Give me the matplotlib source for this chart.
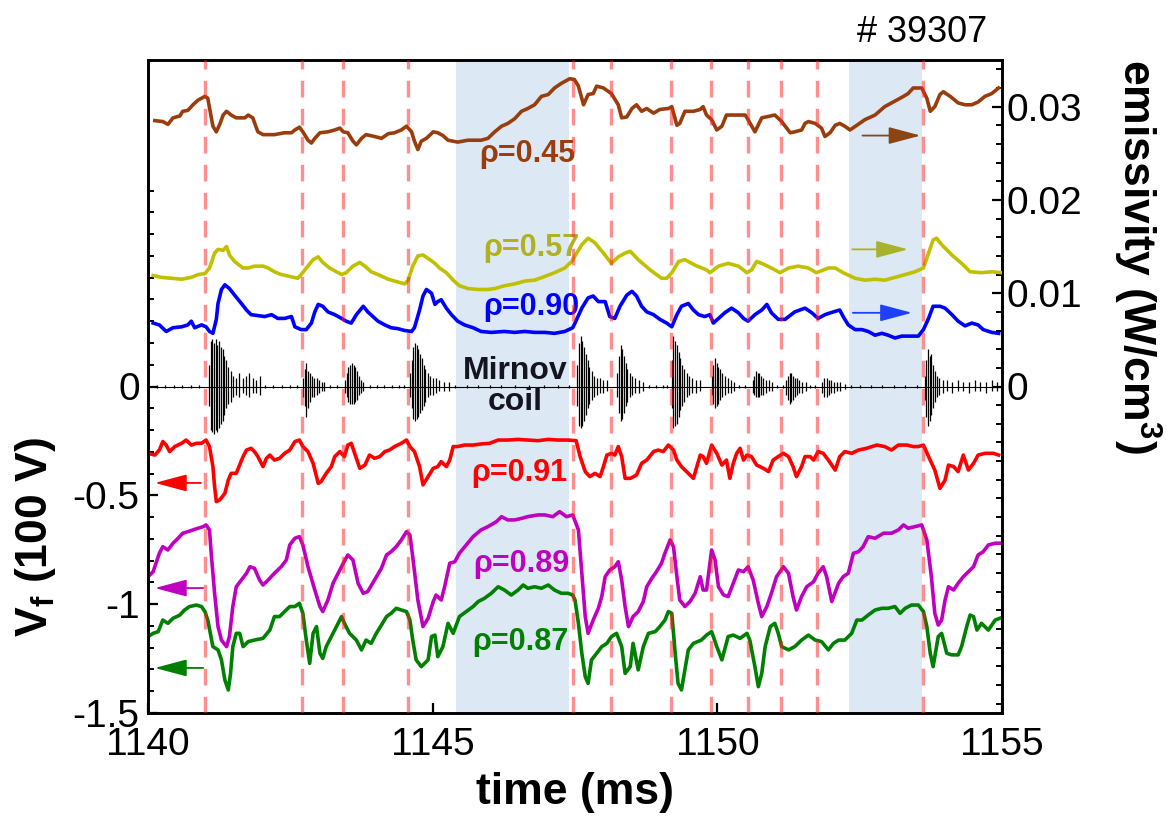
import matplotlib
matplotlib.use("Agg")
import matplotlib.pyplot as plt
from matplotlib.ticker import FixedLocator
import numpy as np

plt.rcParams['font.family'] = ['Liberation Sans', 'DejaVu Sans']
plt.rcParams['axes.unicode_minus'] = False
plt.rcParams['mathtext.fontset'] = 'custom'
plt.rcParams['mathtext.rm'] = 'Liberation Sans'
plt.rcParams['mathtext.bf'] = 'Liberation Sans:bold'

# ---------------- data ----------------
shot_label = "# 39307"
xlim = (1140, 1155)
x_ticks = [1140, 1145, 1150, 1155]
vf_ticks = [-1.5, -1, -0.5, 0]
vf_tick_labels = ["-1.5", "-1", "-0.5", "0"]
em_ticks = [0, 0.01, 0.02, 0.03]
em_tick_labels = ["0", "0.01", "0.02", "0.03"]

dashed_t = [1141.0, 1142.7, 1143.42, 1144.57, 1147.47, 1148.14, 1149.19,
            1149.89, 1150.54, 1151.12, 1151.75, 1153.62]
shade_start = [1145.41, 1152.31]
shade_end = [1147.40, 1153.59]

# emissivity traces (W/cm^3), right axis
brown_pts = [(1140.12,0.0285),(1140.26,0.0284),(1140.35,0.0281),(1140.44,0.0288),(1140.56,0.0290),(1140.61,0.0295),
    (1140.70,0.0296),(1140.79,0.0302),(1140.88,0.0307),(1141.00,0.0311),(1141.05,0.0309),(1141.14,0.0279),(1141.20,0.0273),
    (1141.26,0.0281),(1141.32,0.0291),(1141.38,0.0295),(1141.46,0.0291),(1141.55,0.0288),(1141.70,0.0288),(1141.76,0.0291),
    (1141.84,0.0288),(1141.93,0.0273),(1142.02,0.0270),(1142.22,0.0270),(1142.40,0.0272),(1142.52,0.0272),(1142.58,0.0275),
    (1142.66,0.0278),(1142.72,0.0273),(1142.81,0.0264),(1142.87,0.0261),(1142.93,0.0266),(1143.02,0.0272),(1143.16,0.0273),
    (1143.28,0.0275),(1143.37,0.0277),(1143.43,0.0273),(1143.51,0.0272),(1143.60,0.0263),(1143.66,0.0259),(1143.75,0.0266),
    (1143.83,0.0270),(1143.98,0.0268),(1144.10,0.0266),(1144.22,0.0271),(1144.33,0.0272),(1144.45,0.0275),(1144.54,0.0279),
    (1144.63,0.0273),(1144.68,0.0263),(1144.74,0.0254),(1144.80,0.0263),(1144.89,0.0266),(1145.01,0.0273),(1145.09,0.0272),
    (1145.18,0.0269),(1145.27,0.0264),(1145.36,0.0263),(1145.44,0.0262),(1145.62,0.0264),(1145.85,0.0264),(1145.97,0.0266),
    (1146.09,0.0273),(1146.21,0.0279),(1146.32,0.0282),(1146.44,0.0287),(1146.56,0.0295),(1146.67,0.0298),(1146.79,0.0302),
    (1146.91,0.0311),(1147.03,0.0313),(1147.14,0.0320),(1147.26,0.0325),(1147.41,0.0330),(1147.49,0.0329),(1147.56,0.0322),
    (1147.65,0.0302),(1147.73,0.0313),(1147.82,0.0314),(1147.88,0.0322),(1148.00,0.0320),(1148.14,0.0314),(1148.26,0.0302),
    (1148.32,0.0288),(1148.41,0.0289),(1148.50,0.0298),(1148.58,0.0302),(1148.67,0.0295),(1148.76,0.0298),(1148.88,0.0293),
    (1148.99,0.0297),(1149.14,0.0298),(1149.20,0.0300),(1149.29,0.0280),(1149.34,0.0282),(1149.43,0.0295),(1149.58,0.0295),
    (1149.70,0.0297),(1149.75,0.0300),(1149.81,0.0291),(1149.90,0.0286),(1149.99,0.0275),(1150.08,0.0279),(1150.16,0.0291),
    (1150.31,0.0291),(1150.49,0.0291),(1150.54,0.0286),(1150.66,0.0273),(1150.78,0.0288),(1151.01,0.0291),(1151.13,0.0284),
    (1151.28,0.0272),(1151.36,0.0273),(1151.48,0.0275),(1151.54,0.0282),(1151.60,0.0284),(1151.72,0.0282),(1151.83,0.0277),
    (1151.89,0.0268),(1151.98,0.0272),(1152.07,0.0280),(1152.15,0.0282),(1152.24,0.0279),(1152.33,0.0275),(1152.45,0.0280),
    (1152.59,0.0286),(1152.77,0.0291),(1152.94,0.0300),(1153.12,0.0306),(1153.27,0.0311),(1153.35,0.0314),(1153.44,0.0320),
    (1153.59,0.0320),(1153.68,0.0309),(1153.74,0.0295),(1153.82,0.0300),(1153.91,0.0313),(1153.97,0.0316),(1154.09,0.0311),
    (1154.17,0.0307),(1154.23,0.0304),(1154.35,0.0302),(1154.47,0.0302),(1154.58,0.0305),(1154.70,0.0311),(1154.82,0.0314),
    (1154.94,0.0320)]

yellow_pts = [(1140.09,0.0119),(1140.23,0.0117),(1140.41,0.0116),(1140.59,0.0115),(1140.76,0.0117),(1140.88,0.0120),
    (1141.00,0.0121),(1141.08,0.0127),(1141.17,0.0143),(1141.23,0.0147),(1141.32,0.0146),(1141.38,0.0150),(1141.43,0.0141),
    (1141.52,0.0134),(1141.67,0.0127),(1141.76,0.0127),(1141.87,0.0129),(1142.02,0.0129),(1142.11,0.0127),(1142.22,0.0123),
    (1142.34,0.0120),(1142.49,0.0118),(1142.63,0.0116),(1142.69,0.0120),(1142.78,0.0127),(1142.90,0.0136),(1142.99,0.0139),
    (1143.07,0.0133),(1143.19,0.0127),(1143.31,0.0123),(1143.40,0.0120),(1143.48,0.0122),(1143.60,0.0129),(1143.72,0.0133),
    (1143.81,0.0129),(1143.92,0.0123),(1144.04,0.0120),(1144.22,0.0115),(1144.39,0.0112),(1144.51,0.0110),(1144.57,0.0114),
    (1144.65,0.0129),(1144.74,0.0140),(1144.83,0.0141),(1144.95,0.0136),(1145.04,0.0132),(1145.12,0.0127),(1145.24,0.0122),
    (1145.36,0.0114),(1145.47,0.0108),(1145.62,0.0105),(1145.80,0.0104),(1145.97,0.0104),(1146.09,0.0105),(1146.26,0.0108),
    (1146.44,0.0110),(1146.62,0.0113),(1146.79,0.0114),(1146.97,0.0118),(1147.14,0.0122),(1147.32,0.0127),(1147.44,0.0134),
    (1147.50,0.0140),(1147.62,0.0152),(1147.73,0.0159),(1147.85,0.0154),(1148.00,0.0143),(1148.14,0.0132),(1148.26,0.0139),
    (1148.38,0.0143),(1148.47,0.0145),(1148.61,0.0136),(1148.82,0.0125),(1149.02,0.0116),(1149.11,0.0116),(1149.20,0.0122),
    (1149.32,0.0134),(1149.43,0.0136),(1149.61,0.0130),(1149.81,0.0125),(1149.87,0.0122),(1150.02,0.0129),(1150.19,0.0132),
    (1150.37,0.0129),(1150.52,0.0122),(1150.60,0.0125),(1150.69,0.0134),(1150.78,0.0132),(1150.95,0.0127),(1151.10,0.0122),
    (1151.25,0.0127),(1151.42,0.0129),(1151.60,0.0127),(1151.74,0.0122),(1151.95,0.0127),(1152.07,0.0127),(1152.21,0.0122),
    (1152.42,0.0116),(1152.59,0.0114),(1152.77,0.0115),(1152.94,0.0114),(1153.12,0.0117),(1153.30,0.0120),(1153.47,0.0123),
    (1153.62,0.0127),(1153.71,0.0143),(1153.79,0.0157),(1153.85,0.0159),(1153.94,0.0152),(1154.12,0.0141),(1154.29,0.0132),
    (1154.44,0.0123),(1154.64,0.0122),(1154.82,0.0123),(1154.99,0.0122)]

blue_pts = [(1140.09,0.0068),(1140.20,0.0066),(1140.32,0.0059),(1140.44,0.0063),(1140.59,0.0064),(1140.70,0.0066),
    (1140.76,0.0070),(1140.82,0.0063),(1140.94,0.0066),(1141.02,0.0064),(1141.08,0.0059),(1141.14,0.0057),(1141.20,0.0072),
    (1141.23,0.0089),(1141.29,0.0104),(1141.35,0.0109),(1141.43,0.0105),(1141.52,0.0098),(1141.64,0.0089),(1141.73,0.0082),
    (1141.81,0.0077),(1141.93,0.0076),(1142.05,0.0075),(1142.17,0.0077),(1142.28,0.0073),(1142.40,0.0073),(1142.52,0.0075),
    (1142.58,0.0064),(1142.69,0.0061),(1142.78,0.0061),(1142.87,0.0068),(1142.93,0.0080),(1142.99,0.0088),(1143.07,0.0086),
    (1143.16,0.0080),(1143.28,0.0077),(1143.40,0.0073),(1143.48,0.0070),(1143.57,0.0068),(1143.66,0.0077),(1143.78,0.0086),
    (1143.86,0.0080),(1143.95,0.0075),(1144.04,0.0070),(1144.16,0.0066),(1144.27,0.0063),(1144.39,0.0062),(1144.51,0.0060),
    (1144.63,0.0059),(1144.68,0.0063),(1144.77,0.0082),(1144.83,0.0097),(1144.89,0.0104),(1144.98,0.0100),(1145.04,0.0088),
    (1145.09,0.0091),(1145.15,0.0093),(1145.24,0.0084),(1145.33,0.0077),(1145.44,0.0070),(1145.56,0.0066),(1145.71,0.0063),
    (1145.85,0.0059),(1146.03,0.0058),(1146.26,0.0059),(1146.44,0.0058),(1146.62,0.0059),(1146.79,0.0058),(1146.97,0.0058),
    (1147.14,0.0057),(1147.32,0.0059),(1147.46,0.0063),(1147.50,0.0068),(1147.62,0.0084),(1147.73,0.0095),(1147.82,0.0097),
    (1147.91,0.0091),(1148.03,0.0091),(1148.11,0.0075),(1148.20,0.0073),(1148.29,0.0086),(1148.41,0.0098),(1148.50,0.0102),
    (1148.58,0.0097),(1148.67,0.0086),(1148.76,0.0080),(1148.88,0.0077),(1148.99,0.0072),(1149.11,0.0068),(1149.20,0.0064),
    (1149.29,0.0077),(1149.37,0.0086),(1149.49,0.0089),(1149.58,0.0082),(1149.67,0.0077),(1149.78,0.0075),(1149.87,0.0077),
    (1149.93,0.0068),(1150.02,0.0073),(1150.13,0.0079),(1150.25,0.0084),(1150.37,0.0079),(1150.46,0.0073),(1150.54,0.0070),
    (1150.66,0.0077),(1150.78,0.0082),(1150.87,0.0088),(1150.95,0.0079),(1151.07,0.0072),(1151.19,0.0072),(1151.36,0.0080),
    (1151.54,0.0084),(1151.66,0.0079),(1151.77,0.0073),(1151.89,0.0077),(1152.04,0.0080),(1152.15,0.0082),(1152.21,0.0075),
    (1152.30,0.0066),(1152.42,0.0061),(1152.54,0.0061),(1152.65,0.0059),(1152.77,0.0055),(1152.89,0.0057),(1153.00,0.0055),
    (1153.12,0.0052),(1153.24,0.0054),(1153.35,0.0054),(1153.53,0.0054),(1153.62,0.0061),(1153.71,0.0073),(1153.79,0.0086),
    (1153.91,0.0086),(1154.00,0.0084),(1154.12,0.0077),(1154.23,0.0070),(1154.35,0.0065),(1154.47,0.0068),(1154.58,0.0066),
    (1154.67,0.0061),(1154.82,0.0058),(1154.94,0.0057)]

# floating potential traces (100 V), left axis
red_pts = [(1140.00,-0.307),(1140.12,-0.315),(1140.20,-0.292),(1140.26,-0.253),(1140.32,-0.269),(1140.38,-0.299),
    (1140.47,-0.276),(1140.59,-0.261),(1140.67,-0.246),(1140.76,-0.269),(1140.85,-0.261),(1140.94,-0.261),(1141.02,-0.246),
    (1141.08,-0.276),(1141.14,-0.368),(1141.17,-0.460),(1141.20,-0.529),(1141.26,-0.521),(1141.35,-0.491),(1141.41,-0.430),
    (1141.46,-0.399),(1141.55,-0.399),(1141.61,-0.361),(1141.67,-0.322),(1141.73,-0.292),(1141.81,-0.284),(1141.87,-0.299),
    (1141.93,-0.322),(1142.02,-0.368),(1142.08,-0.330),(1142.14,-0.315),(1142.22,-0.338),(1142.31,-0.330),(1142.40,-0.307),
    (1142.49,-0.292),(1142.58,-0.253),(1142.66,-0.246),(1142.72,-0.276),(1142.81,-0.299),(1142.90,-0.353),(1142.99,-0.445),
    (1143.04,-0.437),(1143.13,-0.399),(1143.22,-0.368),(1143.28,-0.322),(1143.37,-0.299),(1143.45,-0.322),(1143.51,-0.269),
    (1143.57,-0.261),(1143.63,-0.307),(1143.72,-0.376),(1143.81,-0.361),(1143.89,-0.315),(1143.98,-0.330),(1144.07,-0.322),
    (1144.16,-0.299),(1144.24,-0.292),(1144.33,-0.276),(1144.45,-0.261),(1144.54,-0.246),(1144.60,-0.276),(1144.68,-0.299),
    (1144.77,-0.368),(1144.83,-0.452),(1144.92,-0.414),(1145.01,-0.376),(1145.09,-0.368),(1145.15,-0.345),(1145.24,-0.368),
    (1145.30,-0.338),(1145.36,-0.276),(1145.44,-0.276),(1145.56,-0.269),(1145.71,-0.269),(1145.85,-0.264),(1146.00,-0.261),
    (1146.15,-0.246),(1146.32,-0.246),(1146.50,-0.243),(1146.67,-0.246),(1146.85,-0.249),(1147.03,-0.243),(1147.20,-0.246),
    (1147.38,-0.246),(1147.52,-0.249),(1147.59,-0.322),(1147.68,-0.391),(1147.76,-0.414),(1147.85,-0.399),(1147.94,-0.414),
    (1148.00,-0.368),(1148.06,-0.315),(1148.14,-0.307),(1148.20,-0.315),(1148.26,-0.276),(1148.32,-0.322),(1148.38,-0.422),
    (1148.47,-0.422),(1148.58,-0.407),(1148.67,-0.353),(1148.76,-0.338),(1148.88,-0.299),(1148.96,-0.292),(1149.05,-0.299),
    (1149.14,-0.269),(1149.23,-0.292),(1149.29,-0.338),(1149.37,-0.368),(1149.52,-0.407),(1149.58,-0.422),(1149.64,-0.368),
    (1149.70,-0.315),(1149.75,-0.322),(1149.81,-0.353),(1149.90,-0.269),(1149.99,-0.307),(1150.08,-0.361),(1150.16,-0.338),
    (1150.22,-0.422),(1150.28,-0.353),(1150.34,-0.307),(1150.40,-0.284),(1150.46,-0.338),(1150.52,-0.315),(1150.60,-0.322),
    (1150.69,-0.361),(1150.81,-0.376),(1150.90,-0.391),(1150.98,-0.338),(1151.07,-0.322),(1151.16,-0.307),(1151.25,-0.322),
    (1151.33,-0.368),(1151.39,-0.414),(1151.48,-0.368),(1151.54,-0.322),(1151.63,-0.322),(1151.69,-0.338),(1151.77,-0.299),
    (1151.86,-0.307),(1151.95,-0.338),(1152.07,-0.384),(1152.15,-0.322),(1152.24,-0.299),(1152.36,-0.307),(1152.48,-0.292),
    (1152.62,-0.284),(1152.80,-0.269),(1152.94,-0.276),(1153.06,-0.292),(1153.18,-0.269),(1153.33,-0.269),(1153.44,-0.276),
    (1153.53,-0.276),(1153.62,-0.269),(1153.71,-0.322),(1153.82,-0.384),(1153.91,-0.468),(1154.00,-0.430),(1154.06,-0.361),
    (1154.15,-0.368),(1154.23,-0.391),(1154.32,-0.315),(1154.41,-0.384),(1154.50,-0.353),(1154.58,-0.315),(1154.70,-0.307),
    (1154.85,-0.307),(1154.94,-0.315)]

magenta_pts = [(1140.00,-0.874),(1140.09,-0.851),(1140.20,-0.766),(1140.26,-0.736),(1140.35,-0.751),(1140.44,-0.720),
    (1140.53,-0.697),(1140.61,-0.674),(1140.70,-0.667),(1140.79,-0.659),(1140.88,-0.651),(1140.97,-0.644),(1141.02,-0.636),
    (1141.08,-0.659),(1141.11,-0.766),(1141.17,-0.950),(1141.23,-1.103),(1141.29,-1.165),(1141.38,-1.195),(1141.43,-1.149),
    (1141.49,-1.011),(1141.55,-0.920),(1141.64,-0.889),(1141.73,-0.858),(1141.79,-0.828),(1141.87,-0.835),(1141.96,-0.889),
    (1142.02,-0.912),(1142.11,-0.889),(1142.22,-0.858),(1142.34,-0.828),(1142.43,-0.797),(1142.49,-0.728),(1142.58,-0.697),
    (1142.66,-0.690),(1142.72,-0.728),(1142.81,-0.828),(1142.93,-0.935),(1143.02,-1.011),(1143.07,-1.034),(1143.16,-0.981),
    (1143.25,-0.904),(1143.34,-0.858),(1143.43,-0.812),(1143.51,-0.774),(1143.60,-0.797),(1143.69,-0.904),(1143.78,-0.950),
    (1143.86,-0.942),(1143.98,-0.889),(1144.10,-0.835),(1144.19,-0.774),(1144.27,-0.759),(1144.36,-0.736),(1144.45,-0.705),
    (1144.54,-0.667),(1144.60,-0.682),(1144.65,-0.782),(1144.74,-0.981),(1144.83,-1.103),(1144.92,-1.065),(1145.01,-0.988),
    (1145.06,-0.958),(1145.15,-0.981),(1145.21,-0.920),(1145.30,-0.812),(1145.39,-0.805),(1145.47,-0.766),(1145.59,-0.728),
    (1145.71,-0.690),(1145.85,-0.659),(1145.97,-0.644),(1146.12,-0.621),(1146.21,-0.598),(1146.32,-0.613),(1146.44,-0.613),
    (1146.56,-0.606),(1146.67,-0.598),(1146.85,-0.590),(1146.97,-0.590),(1147.11,-0.598),(1147.23,-0.575),(1147.35,-0.598),
    (1147.46,-0.590),(1147.56,-0.659),(1147.62,-0.858),(1147.68,-1.057),(1147.73,-1.134),(1147.82,-1.073),(1147.91,-1.019),
    (1147.97,-0.965),(1148.03,-0.874),(1148.11,-0.843),(1148.20,-0.828),(1148.26,-0.805),(1148.32,-0.889),(1148.38,-1.011),
    (1148.44,-1.103),(1148.52,-1.057),(1148.61,-1.034),(1148.70,-0.988),(1148.76,-0.920),(1148.85,-0.881),(1148.93,-0.851),
    (1149.02,-0.812),(1149.08,-0.766),(1149.17,-0.705),(1149.23,-0.736),(1149.29,-0.874),(1149.34,-0.981),(1149.43,-1.011),
    (1149.52,-0.988),(1149.61,-0.950),(1149.70,-0.874),(1149.75,-0.935),(1149.81,-0.935),(1149.90,-0.751),(1149.96,-0.797),
    (1150.02,-0.920),(1150.11,-0.958),(1150.19,-0.965),(1150.28,-0.904),(1150.37,-0.843),(1150.46,-0.851),(1150.54,-0.828),
    (1150.63,-0.889),(1150.72,-0.996),(1150.78,-1.057),(1150.87,-1.011),(1150.95,-0.950),(1151.04,-0.874),(1151.16,-0.828),
    (1151.25,-0.858),(1151.33,-0.965),(1151.39,-1.027),(1151.48,-0.965),(1151.57,-0.920),(1151.69,-0.897),(1151.77,-0.858),
    (1151.86,-0.828),(1151.92,-0.874),(1152.01,-0.988),(1152.13,-0.904),(1152.21,-0.874),(1152.30,-0.858),(1152.39,-0.766),
    (1152.48,-0.759),(1152.56,-0.736),(1152.65,-0.690),(1152.77,-0.697),(1152.92,-0.674),(1153.06,-0.674),(1153.18,-0.659),
    (1153.27,-0.636),(1153.35,-0.651),(1153.47,-0.644),(1153.59,-0.636),(1153.68,-0.705),(1153.76,-0.874),(1153.82,-1.042),
    (1153.88,-1.096),(1153.94,-1.073),(1154.00,-0.981),(1154.06,-0.920),(1154.15,-0.935),(1154.23,-0.904),(1154.32,-0.874),
    (1154.41,-0.851),(1154.50,-0.828),(1154.58,-0.774),(1154.67,-0.759),(1154.76,-0.728),(1154.88,-0.720),(1154.96,-0.720)]

green_pts = [(1140.00,-1.149),(1140.09,-1.134),(1140.18,-1.126),(1140.26,-1.073),(1140.35,-1.088),(1140.44,-1.065),
    (1140.56,-1.050),(1140.64,-1.027),(1140.73,-1.011),(1140.85,-1.004),(1140.94,-1.011),(1141.00,-1.034),(1141.05,-1.073),
    (1141.14,-1.195),(1141.23,-1.210),(1141.29,-1.256),(1141.35,-1.348),(1141.41,-1.394),(1141.45,-1.318),(1141.49,-1.195),
    (1141.55,-1.134),(1141.61,-1.134),(1141.67,-1.195),(1141.76,-1.172),(1141.87,-1.165),(1142.02,-1.157),(1142.14,-1.119),
    (1142.22,-1.057),(1142.31,-1.057),(1142.40,-1.034),(1142.49,-1.011),(1142.58,-1.011),(1142.66,-0.996),(1142.72,-1.042),
    (1142.78,-1.165),(1142.84,-1.272),(1142.90,-1.134),(1142.96,-1.103),(1143.02,-1.226),(1143.07,-1.249),(1143.13,-1.195),
    (1143.22,-1.149),(1143.31,-1.103),(1143.40,-1.057),(1143.45,-1.088),(1143.54,-1.134),(1143.66,-1.165),(1143.75,-1.210),
    (1143.83,-1.165),(1143.92,-1.180),(1144.01,-1.134),(1144.10,-1.096),(1144.19,-1.057),(1144.27,-1.042),(1144.36,-1.019),
    (1144.45,-1.027),(1144.54,-1.034),(1144.60,-1.073),(1144.65,-1.165),(1144.71,-1.256),(1144.80,-1.287),(1144.92,-1.256),
    (1144.98,-1.149),(1145.04,-1.142),(1145.09,-1.241),(1145.18,-1.195),(1145.27,-1.088),(1145.36,-1.134),(1145.47,-1.057),
    (1145.59,-1.034),(1145.71,-1.011),(1145.80,-0.988),(1145.91,-0.973),(1146.03,-0.950),(1146.15,-0.920),(1146.26,-0.935),
    (1146.38,-0.958),(1146.50,-0.935),(1146.59,-0.912),(1146.67,-0.927),(1146.79,-0.920),(1146.91,-0.927),(1147.03,-0.912),
    (1147.14,-0.935),(1147.26,-0.950),(1147.38,-0.950),(1147.46,-0.958),(1147.50,-0.981),(1147.56,-1.088),(1147.62,-1.226),
    (1147.68,-1.333),(1147.73,-1.364),(1147.79,-1.256),(1147.88,-1.226),(1147.97,-1.195),(1148.06,-1.180),(1148.14,-1.149),
    (1148.23,-1.134),(1148.32,-1.195),(1148.38,-1.318),(1148.47,-1.287),(1148.52,-1.180),(1148.61,-1.302),(1148.70,-1.195),
    (1148.79,-1.134),(1148.91,-1.126),(1148.99,-1.103),(1149.08,-1.073),(1149.14,-1.034),(1149.20,-1.042),(1149.26,-1.226),
    (1149.31,-1.364),(1149.37,-1.394),(1149.43,-1.302),(1149.49,-1.210),(1149.58,-1.180),(1149.72,-1.165),(1149.81,-1.142),
    (1149.90,-1.126),(1149.99,-1.195),(1150.08,-1.256),(1150.19,-1.149),(1150.28,-1.142),(1150.40,-1.157),(1150.52,-1.134),
    (1150.57,-1.165),(1150.66,-1.287),(1150.72,-1.379),(1150.78,-1.318),(1150.84,-1.195),(1150.93,-1.103),(1151.01,-1.088),
    (1151.07,-1.134),(1151.13,-1.195),(1151.25,-1.210),(1151.36,-1.195),(1151.48,-1.165),(1151.60,-1.142),(1151.72,-1.165),
    (1151.83,-1.172),(1151.95,-1.210),(1152.04,-1.180),(1152.13,-1.165),(1152.24,-1.165),(1152.36,-1.134),(1152.45,-1.073),
    (1152.54,-1.073),(1152.65,-1.050),(1152.77,-1.027),(1152.89,-1.019),(1153.00,-1.019),(1153.12,-1.011),(1153.21,-1.042),
    (1153.30,-1.019),(1153.41,-1.004),(1153.53,-1.004),(1153.62,-1.034),(1153.68,-1.103),(1153.74,-1.226),(1153.79,-1.287),
    (1153.88,-1.149),(1153.94,-1.134),(1154.03,-1.226),(1154.12,-1.233),(1154.23,-1.233),(1154.29,-1.195),(1154.38,-1.103),
    (1154.44,-1.050),(1154.50,-1.057),(1154.56,-1.119),(1154.64,-1.088),(1154.76,-1.119),(1154.88,-1.073),(1154.96,-1.065)]

# Mirnov coil signal: oscillation extremes (upper, lower) at read times
mirnov_t = [1140.15,1140.30,1140.45,1140.60,1140.75,1140.90,
    1141.07,1141.10,1141.13,1141.16,1141.19,1141.22,1141.25,1141.28,1141.31,1141.34,1141.37,1141.41,1141.45,1141.50,1141.55,
    1141.60,1141.66,1141.72,1141.78,1141.84,1141.90,1141.96,
    1142.05,1142.20,1142.35,1142.50,1142.62,
    1142.72,1142.75,1142.78,1142.81,1142.84,1142.88,1142.92,1142.96,1143.00,1143.05,1143.10,
    1143.20,1143.32,
    1143.46,1143.49,1143.52,1143.55,1143.58,1143.61,1143.64,1143.67,1143.70,1143.74,1143.78,
    1143.90,1144.02,1144.15,1144.28,1144.40,1144.50,
    1144.60,1144.63,1144.66,1144.69,1144.72,1144.75,1144.78,1144.81,1144.84,1144.87,1144.91,1144.95,1145.00,1145.06,1145.12,
    1145.20,1145.28,
    1145.40,1145.60,1145.80,1146.00,1146.20,1146.45,1146.70,1146.95,1147.20,1147.40,
    1147.54,1147.57,1147.60,1147.63,1147.66,1147.69,1147.72,1147.75,1147.79,1147.83,1147.88,1147.94,1148.00,1148.06,
    1148.24,1148.27,1148.30,1148.33,1148.36,1148.39,1148.42,1148.46,1148.50,1148.55,1148.62,1148.70,
    1148.80,1148.92,1149.05,1149.12,
    1149.20,1149.23,1149.26,1149.29,1149.32,1149.35,1149.38,1149.42,1149.46,1149.50,1149.56,1149.62,1149.70,
    1149.90,1149.93,1149.96,1149.99,1150.02,1150.05,1150.09,1150.13,1150.18,1150.24,1150.30,
    1150.38,1150.48,
    1150.62,1150.65,1150.68,1150.71,1150.74,1150.77,1150.81,1150.85,1150.90,1150.96,
    1151.05,1151.15,
    1151.21,1151.24,1151.27,1151.30,1151.33,1151.36,1151.40,1151.44,1151.49,1151.55,
    1151.62,1151.72,
    1151.84,1151.88,1151.92,1151.96,1152.00,1152.05,1152.10,1152.16,1152.24,
    1152.35,1152.50,1152.70,1152.90,1153.10,1153.30,1153.50,
    1153.64,1153.67,1153.70,1153.73,1153.76,1153.79,1153.82,1153.86,1153.90,1153.96,1154.04,1154.12,1154.22,1154.32,1154.42,
    1154.52,1154.62,1154.72,1154.82,1154.92]
mirnov_hi = [0.008,0.006,0.008,0.006,0.008,0.006,
    0.10,0.21,0.22,0.20,0.22,0.19,0.21,0.18,0.17,0.14,0.12,0.09,0.07,0.05,0.04,
    0.06,0.04,0.05,0.06,0.04,0.03,0.05,
    0.008,0.006,0.008,0.006,0.008,
    0.04,0.08,0.11,0.07,0.06,0.05,0.04,0.04,0.03,0.02,0.02,
    0.008,0.006,
    0.03,0.06,0.09,0.10,0.11,0.10,0.09,0.07,0.05,0.03,0.02,
    0.008,0.006,0.008,0.006,0.008,0.006,
    0.06,0.12,0.18,0.20,0.19,0.17,0.15,0.13,0.10,0.08,0.06,0.05,0.04,0.04,0.03,
    0.02,0.02,
    0.006,0.005,0.006,0.005,0.006,0.005,0.006,0.005,0.006,0.005,
    0.10,0.20,0.23,0.21,0.18,0.15,0.12,0.09,0.07,0.05,0.04,0.04,0.03,0.03,
    0.06,0.14,0.19,0.17,0.14,0.11,0.08,0.06,0.05,0.04,0.03,0.02,
    0.008,0.006,0.008,0.006,
    0.12,0.23,0.21,0.19,0.16,0.13,0.10,0.08,0.06,0.05,0.04,0.03,0.03,
    0.05,0.10,0.13,0.11,0.09,0.08,0.06,0.05,0.04,0.03,0.02,
    0.008,0.006,
    0.03,0.05,0.07,0.06,0.06,0.05,0.04,0.03,0.03,0.02,
    0.008,0.006,
    0.03,0.05,0.06,0.06,0.05,0.04,0.04,0.03,0.02,0.02,
    0.008,0.006,
    0.02,0.04,0.04,0.03,0.03,0.02,0.02,0.02,0.01,
    0.006,0.005,0.006,0.005,0.006,0.005,0.006,
    0.05,0.12,0.17,0.14,0.15,0.10,0.07,0.05,0.04,0.03,0.03,0.02,0.03,0.02,0.02,
    0.03,0.02,0.02,0.03,0.02]
mirnov_lo = [-0.006,-0.008,-0.006,-0.008,-0.006,-0.008,
    -0.09,-0.20,-0.21,-0.22,-0.20,-0.21,-0.19,-0.17,-0.16,-0.13,-0.10,-0.08,-0.07,-0.05,-0.04,
    -0.05,-0.03,-0.04,-0.05,-0.03,-0.03,-0.04,
    -0.006,-0.008,-0.006,-0.008,-0.006,
    -0.05,-0.09,-0.14,-0.10,-0.07,-0.05,-0.05,-0.04,-0.03,-0.02,-0.02,
    -0.006,-0.008,
    -0.03,-0.05,-0.07,-0.08,-0.08,-0.08,-0.07,-0.06,-0.04,-0.03,-0.02,
    -0.006,-0.008,-0.006,-0.008,-0.006,-0.008,
    -0.05,-0.10,-0.15,-0.16,-0.15,-0.14,-0.12,-0.11,-0.09,-0.07,-0.05,-0.04,-0.04,-0.03,-0.02,
    -0.02,-0.02,
    -0.005,-0.006,-0.005,-0.006,-0.005,-0.006,-0.005,-0.006,-0.005,-0.006,
    -0.09,-0.18,-0.19,-0.18,-0.16,-0.13,-0.10,-0.08,-0.06,-0.05,-0.04,-0.03,-0.03,-0.02,
    -0.05,-0.12,-0.16,-0.15,-0.12,-0.09,-0.07,-0.05,-0.04,-0.03,-0.03,-0.02,
    -0.006,-0.008,-0.006,-0.008,
    -0.10,-0.19,-0.18,-0.17,-0.14,-0.11,-0.09,-0.07,-0.05,-0.04,-0.03,-0.03,-0.02,
    -0.04,-0.08,-0.10,-0.09,-0.08,-0.06,-0.05,-0.04,-0.03,-0.03,-0.02,
    -0.006,-0.008,
    -0.03,-0.04,-0.05,-0.05,-0.05,-0.04,-0.04,-0.03,-0.02,-0.02,
    -0.006,-0.008,
    -0.04,-0.06,-0.08,-0.07,-0.06,-0.05,-0.04,-0.03,-0.03,-0.02,
    -0.006,-0.008,
    -0.03,-0.05,-0.05,-0.04,-0.03,-0.03,-0.02,-0.02,-0.01,
    -0.005,-0.006,-0.005,-0.006,-0.005,-0.006,-0.005,
    -0.06,-0.14,-0.18,-0.16,-0.13,-0.10,-0.07,-0.05,-0.04,-0.03,-0.02,-0.03,-0.02,-0.02,-0.03,
    -0.02,-0.02,-0.03,-0.02,-0.02]
mirnov_base_t = [1140.1, 1155.0]
mirnov_base_v = [0.0, 0.0]

# colours
c_brown = '#993d0d'
c_yellow = '#c0c000'
c_yellow_txt = '#b0b020'
c_blue = '#0000ff'
c_red = '#ff0000'
c_mag = '#c000c0'
c_green = '#008000'

# ---------------- figure ----------------
fig = plt.figure(figsize=(11.76, 8.16), dpi=100)
ax = fig.add_axes([148/1176, 1-713/816, 854/1176, 653/816])
ax2 = ax.twinx()

ax.set_xlim(*xlim)
ax.set_ylim(-1.5, 1.5)
ax2.set_ylim(-0.035, 0.035)

for s, e in zip(shade_start, shade_end):
    ax.axvspan(s, e, color='#dce8f4', lw=0, zorder=0)

lw = 2.6
def pts(p):
    return [a for a, _ in p], [b for _, b in p]

for p, c in [(red_pts, c_red), (magenta_pts, c_mag), (green_pts, c_green)]:
    t, v = pts(p)
    ax.plot(t, v, color=c, lw=lw, zorder=3)

ax.plot(mirnov_base_t, mirnov_base_v, color='black', lw=0.8, zorder=3)
ax.vlines(mirnov_t, mirnov_lo, mirnov_hi, color='black', lw=0.9, zorder=3)

for p, c in [(brown_pts, c_brown), (yellow_pts, c_yellow), (blue_pts, c_blue)]:
    t, v = pts(p)
    ax2.plot(t, v, color=c, lw=lw, zorder=3)

for t in dashed_t:
    ax2.axvline(t, color='#ff2020', alpha=0.5, lw=2.4, ls=(0, (5.0, 3.4)), zorder=5)

# labels on traces
tfs = 22
ax2.text(1146.66, 0.0249, 'ρ=0.45', color=c_brown, fontsize=tfs, fontweight='bold', ha='center', va='center')
ax2.text(1146.73, 0.0148, 'ρ=0.57', color=c_yellow_txt, fontsize=tfs, fontweight='bold', ha='center', va='center')
ax2.text(1146.73, 0.0085, 'ρ=0.90', color=c_blue, fontsize=tfs, fontweight='bold', ha='center', va='center')
ax.text(1146.52, -0.397, 'ρ=0.91', color=c_red, fontsize=tfs, fontweight='bold', ha='center', va='center')
ax.text(1146.55, -0.815, 'ρ=0.89', color=c_mag, fontsize=tfs, fontweight='bold', ha='center', va='center')
ax.text(1146.55, -1.172, 'ρ=0.87', color=c_green, fontsize=tfs, fontweight='bold', ha='center', va='center')
ax.text(1146.45, 0.0, 'Mirnov\ncoil', color='#151520', fontsize=23, fontweight='bold',
        ha='center', va='center', linespacing=1.05, zorder=4)

# arrows
def arrow(a, x0, x1, y, c):
    a.annotate('', xy=(x1, y), xytext=(x0, y),
               arrowprops=dict(arrowstyle='-|>,head_length=0.9,head_width=0.24', color=c, lw=1.3,
                               mutation_scale=22, shrinkA=0, shrinkB=0), zorder=6)

arrow(ax2, 1152.55, 1153.57, 0.0269, '#8b4513')
arrow(ax2, 1152.37, 1153.35, 0.0147, '#a8b22a')
arrow(ax2, 1152.38, 1153.42, 0.0079, '#1f3fff')
arrow(ax, 1140.93, 1140.12, -0.443, c_red)
arrow(ax, 1140.97, 1140.12, -0.926, c_mag)
arrow(ax, 1140.97, 1140.12, -1.293, c_green)

# ticks & spines
ax.set_xticks(x_ticks)
ax.set_xticklabels([str(v) for v in x_ticks])
ax.set_yticks(vf_ticks)
ax.set_yticklabels(vf_tick_labels)
ax.yaxis.set_minor_locator(FixedLocator(np.round(np.arange(-1.4, 0.95, 0.1), 2)))
ax2.set_yticks(em_ticks)
ax2.set_yticklabels(em_tick_labels)
ax2.yaxis.set_minor_locator(FixedLocator(np.round(np.arange(-0.034, 0.0345, 0.002), 4)))

tick_fs = 28
ax.tick_params(axis='x', direction='in', length=7, width=1.6, labelsize=tick_fs, pad=10, top=False)
ax.tick_params(axis='y', which='major', direction='in', length=7, width=1.6, labelsize=tick_fs, pad=6, right=False)
ax.tick_params(axis='y', which='minor', direction='in', length=4.5, width=1.4, right=False)
ax2.tick_params(axis='y', which='major', direction='in', length=7, width=1.6, labelsize=tick_fs, pad=3, left=False)
ax2.tick_params(axis='y', which='minor', direction='in', length=4.5, width=1.4, left=False)

for a in (ax, ax2):
    for sp in a.spines.values():
        sp.set_linewidth(1.9)

ax.set_xlabel('time (ms)', fontsize=32, fontweight='bold', va='center')
ax.xaxis.set_label_coords(0.5, -0.1225)
ax.set_ylabel(r'V$_{\mathbf{f}}$ (100 V)', fontsize=32, fontweight='bold', va='center', ha='center')
ax.yaxis.set_label_coords(-0.132, 0.27)
ax2.set_ylabel(r'emissivity (W/cm$^{\mathbf{3}}$)', fontsize=32, fontweight='bold', rotation=-90,
               va='center', ha='center')
ax2.yaxis.set_label_coords(1.158, 0.70)

fig.text(987/1176, 1-33/816, shot_label, fontsize=26, ha='right', va='center')

fig.savefig('out.png', dpi=100)
